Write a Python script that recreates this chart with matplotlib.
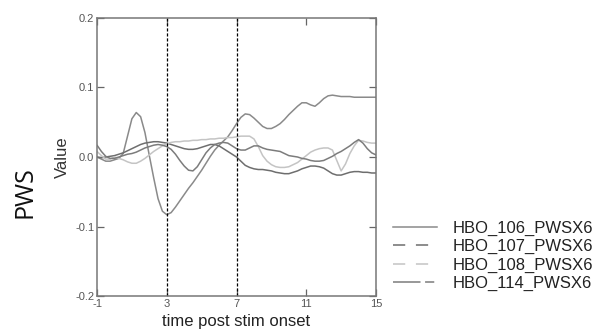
import matplotlib
matplotlib.use("Agg")
import matplotlib.pyplot as plt
import numpy as np
from matplotlib.lines import Line2D

plt.rcParams["font.family"] = ["Liberation Sans", "DejaVu Sans"]

# time axis (s), one sample every 0.25 s
time = np.arange(-1, 15.001, 0.25)

hbo_106 = [0.000, -0.003, -0.006, -0.006, -0.004,
           -0.002, 0.005, 0.030, 0.055,
           0.064, 0.058, 0.035, 0.002,
           -0.030, -0.060, -0.078, -0.083,
           -0.080, -0.072, -0.063, -0.054,
           -0.045, -0.037, -0.028, -0.019,
           -0.009, 0.001, 0.010, 0.017,
           0.023, 0.029, 0.038, 0.048,
           0.057, 0.062, 0.061, 0.056,
           0.050, 0.044, 0.041, 0.041,
           0.044, 0.048, 0.054, 0.061,
           0.067, 0.073, 0.078, 0.078,
           0.075, 0.073, 0.078, 0.084,
           0.088, 0.089, 0.088, 0.087,
           0.087, 0.087, 0.086, 0.086,
           0.086, 0.086, 0.086, 0.086]
hbo_107 = [0.000, -0.001, 0.000, 0.001, 0.002,
           0.004, 0.006, 0.009, 0.012,
           0.015, 0.018, 0.020, 0.021,
           0.022, 0.022, 0.021, 0.020,
           0.018, 0.016, 0.014, 0.012,
           0.011, 0.011, 0.012, 0.014,
           0.016, 0.018, 0.018, 0.016,
           0.012, 0.008, 0.004, 0.000,
           -0.006, -0.012, -0.015, -0.017,
           -0.018, -0.018, -0.019, -0.020,
           -0.022, -0.023, -0.024, -0.024,
           -0.022, -0.020, -0.017, -0.015,
           -0.013, -0.013, -0.014, -0.016,
           -0.020, -0.024, -0.026, -0.026,
           -0.024, -0.022, -0.021, -0.021,
           -0.022, -0.022, -0.023, -0.023]
hbo_108 = [0.008, 0.002, -0.003, -0.003, 0.000,
           -0.002, -0.004, -0.007, -0.009,
           -0.009, -0.006, -0.002, 0.003,
           0.008, 0.012, 0.016, 0.019,
           0.021, 0.022, 0.022, 0.023,
           0.023, 0.024, 0.024, 0.025,
           0.025, 0.026, 0.026, 0.027,
           0.027, 0.028, 0.028, 0.029,
           0.030, 0.030, 0.030, 0.026,
           0.015, 0.002, -0.006, -0.011,
           -0.014, -0.015, -0.015, -0.014,
           -0.011, -0.008, -0.003, 0.002,
           0.007, 0.010, 0.012, 0.013,
           0.013, 0.010, -0.005, -0.020,
           -0.010, 0.005, 0.016, 0.024,
           0.023, 0.021, 0.020, 0.020]
hbo_114 = [0.017, 0.008, 0.001, -0.002, -0.002,
           0.000, 0.002, 0.004, 0.005,
           0.007, 0.010, 0.013, 0.015,
           0.017, 0.018, 0.017, 0.015,
           0.011, 0.004, -0.005, -0.013,
           -0.019, -0.020, -0.014, -0.004,
           0.006, 0.013, 0.018, 0.020,
           0.021, 0.020, 0.016, 0.012,
           0.010, 0.010, 0.013, 0.016,
           0.016, 0.013, 0.011, 0.010,
           0.009, 0.008, 0.005, 0.002,
           0.001, 0.000, -0.002, -0.003,
           -0.005, -0.006, -0.006, -0.005,
           -0.002, 0.001, 0.005, 0.008,
           0.012, 0.016, 0.021, 0.025,
           0.020, 0.012, 0.006, 0.003]

labels = ["HBO_106_PWSX6", "HBO_107_PWSX6", "HBO_108_PWSX6", "HBO_114_PWSX6"]
series = [hbo_106, hbo_107, hbo_108, hbo_114]
colors = ["#8a8a8a", "#6e6e6e", "#c4c4c4", "#7c7c7c"]
dashes = [None, (8, 7), (8, 7), (18, 3, 6, 3)]

stim_marks = [3, 7]
xticks = [-1, 3, 7, 11, 15]
yticks = [-0.2, -0.1, 0.0, 0.1, 0.2]
ytick_labels = ["-0.2", "-0.1", "0.0", "0.1", "0.2"]

fig = plt.figure(figsize=(6.0, 3.32), dpi=100)
ax = fig.add_axes([0.1617, 0.1084, 0.465, 0.8374])

for vals, c in zip(series, colors):
    ax.plot(time, vals, color=c, lw=1.1, solid_capstyle="round")

for t in stim_marks:
    ax.axvline(t, color="black", lw=0.9, ls=(0, (2.5, 1.5)))

ax.set_xlim(-1, 15)
ax.set_ylim(-0.2, 0.2)
ax.set_xticks(xticks)
ax.set_xticklabels([str(t) for t in xticks])
ax.set_yticks(yticks)
ax.set_yticklabels(ytick_labels)
ax.tick_params(direction="in", length=5, width=0.9, color="#666666",
               labelsize=8, labelcolor="#555555", top=True, right=True, pad=2)
for s in ax.spines.values():
    s.set_color("#777777")
    s.set_linewidth(1.1)

ax.set_xlabel("time post stim onset", fontsize=12, color="#222222", labelpad=4)
ax.set_ylabel("Value", fontsize=12, color="#333333")
ax.yaxis.set_label_coords(-0.097, 0.5)

fig.text(0.042, 0.42, "PWS", rotation=90, fontsize=18, family="Open Sans",
         ha="center", va="center", color="#111111")

handles = []
for c, d in zip(colors, dashes):
    h = Line2D([], [], color=c, lw=1.1)
    if d is not None:
        h.set_dashes(d)
    handles.append(h)
fig.legend(handles, labels, loc="upper left", bbox_to_anchor=(0.644, 0.355),
           frameon=False, fontsize=12, handlelength=2.64, handletextpad=0.96,
           labelspacing=0.2, labelcolor="#222222", borderaxespad=0)

fig.savefig("out.png", dpi=100)
